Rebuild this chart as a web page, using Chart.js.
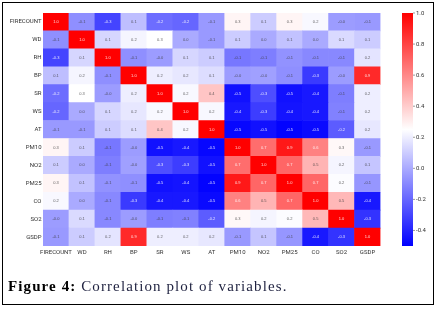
<!DOCTYPE html>
<html>
<head>
<meta charset="utf-8">
<script src="https://cdn.jsdelivr.net/npm/chart.js@4.4.0/dist/chart.umd.min.js"></script>
<style>
    body { margin: 0; background: #fff; }
    #heat { position: absolute; left: 0; top: 0; }
    #frame { position: absolute; left: 2px; top: 2px; width: 432px; height: 303px; box-sizing: border-box; border: 1.3px solid #000; }
    #caption { position: absolute; left: 8px; top: 279px; font-family: "Liberation Serif", serif; font-size: 15px; line-height: 15px; letter-spacing: 1.1px; color: #1f2240; white-space: nowrap; }
    #caption b { color: #000; }
</style>
</head>
<body>
<canvas id="heat" width="439" height="262"></canvas>
<div id="frame"></div>
<div id="caption"><b>Figure 4:</b> Correlation plot of variables.</div>
<script>
"use strict";

const variables = ["FIRECOUNT", "WD", "RH", "BP", "SR", "WS", "AT", "PM10", "NO2", "PM25", "CO", "SO2", "GSDP"];

// rows of the correlation matrix
const FIRECOUNT = [1.0, -0.08, -0.30, 0.06, -0.18, -0.20, -0.05, 0.28, 0.10, 0.28, 0.23, -0.04, -0.05];
const WD = [-0.08, 1.0, 0.13, 0.22, 0.25, 0.00, -0.05, 0.10, 0.00, 0.07, 0.00, 0.14, 0.10];
const RH = [-0.30, 0.13, 1.0, -0.08, -0.04, 0.13, 0.10, -0.15, -0.13, -0.07, -0.10, -0.10, 0.17];
const BP = [0.06, 0.22, -0.08, 1.0, 0.20, 0.18, 0.15, -0.04, -0.03, -0.08, -0.33, -0.04, 0.88];
const SR = [-0.18, 0.25, -0.04, 0.20, 1.0, 0.23, 0.42, -0.45, -0.27, -0.45, -0.43, -0.13, 0.20];
const WS = [-0.20, 0.00, 0.13, 0.18, 0.23, 1.0, 0.23, -0.43, -0.32, -0.44, -0.43, -0.12, 0.20];
const AT = [-0.05, -0.05, 0.10, 0.15, 0.42, 0.23, 1.0, -0.48, -0.45, -0.49, -0.47, -0.23, 0.18];
const PM10 = [0.28, 0.10, -0.15, -0.04, -0.45, -0.43, -0.48, 1.0, 0.68, 0.93, 0.62, 0.27, -0.05];
const NO2 = [0.10, 0.00, -0.13, -0.03, -0.27, -0.32, -0.45, 0.68, 1.0, 0.70, 0.47, 0.22, 0.08];
const PM25 = [0.28, 0.07, -0.07, -0.08, -0.45, -0.44, -0.49, 0.93, 0.70, 1.0, 0.70, 0.24, -0.06];
const CO = [0.23, 0.00, -0.10, -0.33, -0.43, -0.43, -0.47, 0.62, 0.47, 0.70, 1.0, 0.46, -0.43];
const SO2 = [-0.04, 0.14, -0.10, -0.04, -0.13, -0.12, -0.23, 0.27, 0.22, 0.24, 0.46, 1.0, -0.35];
const GSDP = [-0.05, 0.10, 0.17, 0.88, 0.20, 0.20, 0.18, -0.05, 0.08, -0.06, -0.43, -0.35, 1.0];

const colorbarTicks = [-0.4, -0.2, 0.0, 0.2, 0.4, 0.6, 0.8, 1.0];
const vmin = -0.5;
const vmax = 1.0;

const rows = [FIRECOUNT, WD, RH, BP, SR, WS, AT, PM10, NO2, PM25, CO, SO2, GSDP];

// bwr colormap
function bwr(v) {
    let t = (v - vmin) / (vmax - vmin);
    t = Math.max(0, Math.min(1, t));
    if (t < 0.5) {
        const c = Math.round(2 * t * 255);
        return `rgb(${c},${c},255)`;
    }
    const c = Math.round((2 - 2 * t) * 255);
    return `rgb(255,${c},${c})`;
}

/**
 * each dataset is one row of the matrix, stacked from the bottom (GSDP) to the top
 */
const datasets = rows.map((row, r) => ({
    label: variables[r],
    data: row.map(() => 1),
    values: row,
    backgroundColor: row.map(bwr),
    borderWidth: 0,
    barPercentage: 1,
    categoryPercentage: 1,
})).reverse();

const cellText = {
    id: "cellText",
    afterDatasetsDraw(chart) {
        const ctx = chart.ctx;
        ctx.save();
        ctx.font = "4px 'Liberation Sans', sans-serif";
        ctx.textAlign = "center";
        ctx.textBaseline = "middle";
        chart.data.datasets.forEach((ds, d) => {
            const meta = chart.getDatasetMeta(d);
            meta.data.forEach((el, i) => {
                const v = ds.values[i];
                const dark = v < -0.15 || v > 0.6;
                ctx.fillStyle = dark ? "rgba(255,255,255,0.85)" : "rgba(60,60,60,0.8)";
                ctx.fillText(v.toFixed(1), el.x, (el.y + el.base) / 2);
            });
        });
        ctx.restore();
    },
};

const colorBar = {
    id: "colorBar",
    afterDraw(chart) {
        const s = chart.scales.cbar;
        const ctx = chart.ctx;
        const x0 = s.left + 21.5;
        const w = 11;
        const yTop = s.getPixelForValue(vmax);
        const yBot = s.getPixelForValue(vmin);
        const grad = ctx.createLinearGradient(0, yBot, 0, yTop);
        grad.addColorStop(0, "rgb(0,0,255)");
        grad.addColorStop(0.5, "rgb(255,255,255)");
        grad.addColorStop(1, "rgb(255,0,0)");
        ctx.save();
        ctx.fillStyle = grad;
        ctx.fillRect(x0, yTop, w, yBot - yTop);
        ctx.strokeStyle = "#555";
        ctx.lineWidth = 0.6;
        colorbarTicks.forEach((t) => {
            const y = s.getPixelForValue(t);
            ctx.beginPath();
            ctx.moveTo(x0 + w, y);
            ctx.lineTo(x0 + w + 2, y);
            ctx.stroke();
        });
        ctx.restore();
    },
};

const tickFont = { family: "Roboto, sans-serif", size: 6 };

new Chart(document.querySelector("#heat"), {
    type: "bar",
    data: { labels: variables, datasets: datasets },
    options: {
        responsive: false,
        animation: false,
        devicePixelRatio: 1,
        layout: { padding: { top: 13, left: 0, right: 0, bottom: 0 } },
        plugins: { legend: { display: false }, tooltip: { enabled: false } },
        scales: {
            x: {
                stacked: true,
                grid: { display: false, drawTicks: false },
                border: { display: false },
                ticks: { font: tickFont, color: "#333", padding: 3, autoSkip: false, maxRotation: 0 },
                afterFit: (axis) => { axis.height = 16; },
            },
            y: {
                stacked: true,
                min: 0,
                max: 13,
                grid: { display: false, drawTicks: false },
                border: { display: false },
                afterBuildTicks: (axis) => {
                    axis.ticks = variables.map((_, i) => ({ value: 12.5 - i }));
                },
                ticks: {
                    font: tickFont,
                    color: "#333",
                    padding: 1.5,
                    autoSkip: false,
                    callback: (value) => variables[Math.round(12.5 - value)],
                },
                afterFit: (axis) => { axis.width = 43; },
            },
            cbar: {
                axis: "y",
                type: "linear",
                position: "right",
                min: vmin,
                max: vmax,
                grid: { display: true, drawOnChartArea: false, drawTicks: true, tickLength: 34, color: "transparent" },
                border: { display: false },
                afterBuildTicks: (axis) => {
                    axis.ticks = colorbarTicks.map((v) => ({ value: v }));
                },
                ticks: {
                    font: tickFont,
                    color: "#333",
                    padding: 1.5,
                    callback: (value) => value.toFixed(1),
                },
                afterFit: (axis) => { axis.width = 58.5; },
            },
        },
    },
    plugins: [cellText, colorBar],
});
</script>
</body>
</html>
